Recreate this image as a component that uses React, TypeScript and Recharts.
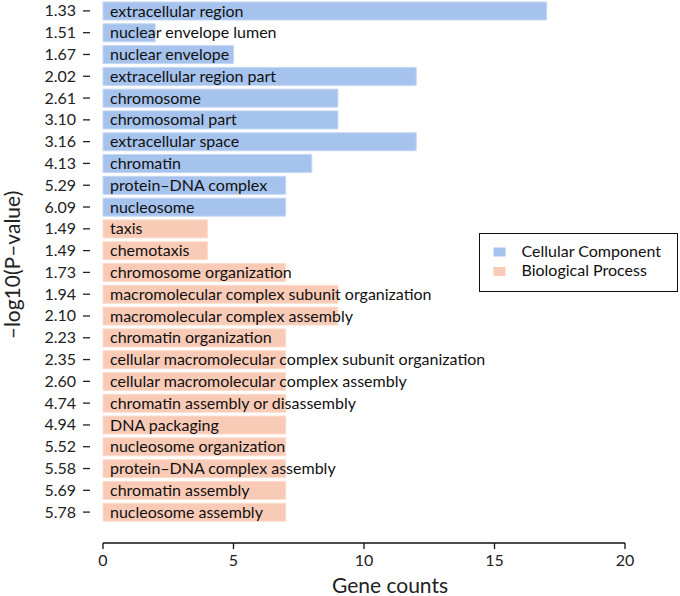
import { BarChart, Bar, XAxis, YAxis, Cell, LabelList, Legend } from 'recharts'

const terms = [
  'extracellular region',
  'nuclear envelope lumen',
  'nuclear envelope',
  'extracellular region part',
  'chromosome',
  'chromosomal part',
  'extracellular space',
  'chromatin',
  'protein\u2013DNA complex',
  'nucleosome',
  'taxis',
  'chemotaxis',
  'chromosome organization',
  'macromolecular complex subunit organization',
  'macromolecular complex assembly',
  'chromatin organization',
  'cellular macromolecular complex subunit organization',
  'cellular macromolecular complex assembly',
  'chromatin assembly or disassembly',
  'DNA packaging',
  'nucleosome organization',
  'protein\u2013DNA complex assembly',
  'chromatin assembly',
  'nucleosome assembly',
]

const pValues = [
  '1.33', '1.51', '1.67', '2.02', '2.61', '3.10', '3.16', '4.13', '5.29', '6.09',
  '1.49', '1.49', '1.73', '1.94', '2.10', '2.23', '2.35', '2.60', '4.74', '4.94',
  '5.52', '5.58', '5.69', '5.78',
]

const geneCounts = [17, 2, 5, 12, 9, 9, 12, 8, 7, 7, 4, 4, 7, 9, 9, 7, 7, 7, 7, 7, 7, 7, 7, 7]

const groups = [
  'CC', 'CC', 'CC', 'CC', 'CC', 'CC', 'CC', 'CC', 'CC', 'CC',
  'BP', 'BP', 'BP', 'BP', 'BP', 'BP', 'BP', 'BP', 'BP', 'BP', 'BP', 'BP', 'BP', 'BP',
]

const groupKeys = ['CC', 'BP']
const groupNames = ['Cellular Component', 'Biological Process']
const groupColors: Record<string, string> = { CC: '#a6c3ed', BP: '#f9cbb7' }
const groupStrokes: Record<string, string> = { CC: '#c4d7f3', BP: '#fbdccd' }

const xTicks = [0, 5, 10, 15, 20]

const data = terms.map((term, i) => ({
  key: 'r' + i,
  term,
  p: pValues[i],
  count: geneCounts[i],
  group: groups[i],
}))

const FONT = 'Lato, "Open Sans", sans-serif'

function YTick(props: any) {
  const { y, payload } = props
  const row = data.find((d) => d.key === payload.value)
  return (
    <g>
      <line x1={83} x2={90} y1={y} y2={y} stroke="#222" strokeWidth={1.3} />
      <text x={76} y={y + 5.5} textAnchor="end" fontSize={16} fill="#222" fontFamily={FONT}>
        {row ? row.p : ''}
      </text>
    </g>
  )
}

function BarLabel(props: any) {
  const { x, y, height, value } = props
  return (
    <text x={x + 7} y={y + height / 2 + 5.5} fontSize={16} fill="#111" fontFamily={FONT}>
      {value}
    </text>
  )
}

function LegendBox() {
  return (
    <div style={{ border: '1.5px solid #111', width: 199, height: 59, boxSizing: 'border-box', background: '#fff' }}>
      <svg width={196} height={56} style={{ display: 'block' }}>
        {groupKeys.map((g, i) => (
          <g key={g}>
            <rect x={13.5} y={13.5 + i * 19.5} width={12} height={9} fill={groupColors[g]} />
            <text x={41.5} y={23 + i * 18.5} fontSize={16} fill="#111" fontFamily={FONT}>
              {groupNames[i]}
            </text>
          </g>
        ))}
      </svg>
    </div>
  )
}

export default function App() {
  return (
    <div style={{ position: 'absolute', left: 0, top: 0, background: '#fff' }}>
      <BarChart
        width={680}
        height={596}
        data={data}
        layout="vertical"
        margin={{ top: 0, right: 55, bottom: 0, left: 0 }}
        style={{ fontFamily: FONT }}
      >
        <XAxis
          type="number"
          domain={[0, 20]}
          ticks={xTicks}
          height={53}
          stroke="#111"
          axisLine={{ stroke: '#111', strokeWidth: 1.5 }}
          tickLine={{ stroke: '#111', strokeWidth: 1.3 }}
          tickSize={6}
          tickMargin={6}
          tick={{ fontSize: 16, fill: '#222', fontFamily: FONT }}
          label={() => (
            <text x={390} y={593} textAnchor="middle" fontSize={21} fill="#222" fontFamily={FONT}>
              Gene counts
            </text>
          )}
        />
        <YAxis
          type="category"
          dataKey="key"
          width={103}
          axisLine={false}
          tickLine={false}
          interval={0}
          padding={{ top: 0, bottom: 20 }}
          tick={<YTick />}
          label={() => {
            const cy = 265
            return (
              <text
                x={20}
                y={cy}
                transform={`rotate(-90, 20, ${cy})`}
                textAnchor="middle"
                fontSize={21}
                fill="#222"
                fontFamily={FONT}
              >
                {'\u2013log10(P\u2013value)'}
              </text>
            )
          }}
        />
        <Legend
          layout="horizontal"
          verticalAlign="middle"
          align="center"
          content={() => <LegendBox />}
          wrapperStyle={{ position: 'absolute', left: 479, top: 233, width: 199 }}
        />
        <Bar dataKey="count" barSize={18} isAnimationActive={false} strokeWidth={1}>
          {data.map((d) => (
            <Cell key={d.key} fill={groupColors[d.group]} stroke={groupStrokes[d.group]} />
          ))}
          <LabelList dataKey="term" content={<BarLabel />} />
        </Bar>
      </BarChart>
    </div>
  )
}
